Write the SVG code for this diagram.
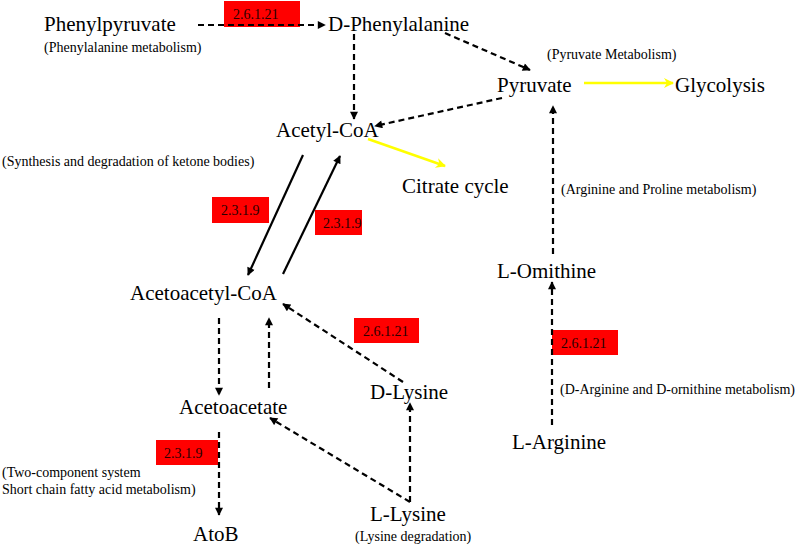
<svg xmlns="http://www.w3.org/2000/svg" width="800" height="546" viewBox="0 0 800 546">
<defs>
<style>
.n{font-family:"Liberation Serif","Times New Roman",serif;font-size:21px;fill:#000}
.s{font-family:"Liberation Serif","Times New Roman",serif;font-size:14px;fill:#000}
.bx{fill:#ff0000}
.bt{font-family:"Liberation Serif","Times New Roman",serif;font-size:14px;fill:#2a0000}
.d{stroke:#000;stroke-width:2.2;stroke-dasharray:6,4;fill:none}
.sl{stroke:#000;stroke-width:2.2;fill:none}
.y{stroke:#ffff00;stroke-width:2.5;fill:none}
</style>
<marker id="ab" viewBox="0 0 10 10" refX="9" refY="5" markerWidth="9" markerHeight="8" markerUnits="userSpaceOnUse" orient="auto"><path d="M0,0L10,5L0,10z" fill="#000"/></marker>
<marker id="ay" viewBox="0 0 10 10" refX="9" refY="5" markerWidth="12" markerHeight="10" markerUnits="userSpaceOnUse" orient="auto"><path d="M0,0L10,5L0,10L3,5z" fill="#ffff00"/></marker>
</defs>
<rect width="800" height="546" fill="#fff"/>
<g id="enzymes">
<rect class="bx" x="224" y="1" width="76" height="26"/><text class="bt" x="233" y="19">2.6.1.21</text>
<rect class="bx" x="212" y="197" width="57" height="26"/><text class="bt" x="221" y="215">2.3.1.9</text>
<rect class="bx" x="315" y="210" width="47" height="25"/><text class="bt" x="323" y="228">2.3.1.9</text>
<rect class="bx" x="354" y="318" width="65" height="25"/><text class="bt" x="363" y="336">2.6.1.21</text>
<rect class="bx" x="552" y="330" width="66" height="25"/><text class="bt" x="561" y="348">2.6.1.21</text>
<rect class="bx" x="156" y="440" width="62" height="25"/><text class="bt" x="164" y="458">2.3.1.9</text>
</g>
<g id="connectors">
<line class="d" x1="198" y1="25" x2="325" y2="25" marker-end="url(#ab)"/>
<line class="d" x1="354" y1="34" x2="354" y2="119" marker-end="url(#ab)"/>
<line class="d" x1="445" y1="33" x2="530" y2="70" marker-end="url(#ab)"/>
<line class="d" x1="502" y1="98" x2="375" y2="126" marker-end="url(#ab)"/>
<line class="d" x1="553" y1="254" x2="553" y2="106" marker-end="url(#ab)"/>
<line class="d" x1="552" y1="425" x2="552" y2="282" marker-end="url(#ab)"/>
<line class="d" x1="219" y1="318" x2="219" y2="395" marker-end="url(#ab)"/>
<line class="d" x1="269" y1="388" x2="269" y2="318" marker-end="url(#ab)"/>
<line class="d" x1="403" y1="382" x2="283" y2="304" marker-end="url(#ab)"/>
<line class="d" x1="410" y1="502" x2="270" y2="418" marker-end="url(#ab)"/>
<line class="d" x1="410" y1="502" x2="410" y2="403" marker-end="url(#ab)"/>
<line class="d" x1="219" y1="432" x2="219" y2="515" marker-end="url(#ab)"/>
<line class="sl" x1="303" y1="155" x2="248" y2="275" marker-end="url(#ab)"/>
<line class="sl" x1="283" y1="274" x2="340" y2="156" marker-end="url(#ab)"/>
<line class="y" x1="584" y1="83" x2="673" y2="83" marker-end="url(#ay)"/>
<line class="y" x1="368" y1="139" x2="445" y2="166" marker-end="url(#ay)"/>
</g>
<g id="phenylpyruvate"><text class="n" x="44" y="31">Phenylpyruvate</text><text class="s" x="44" y="52">(Phenylalanine metabolism)</text></g>
<g id="d-phenylalanine"><text class="n" x="328" y="31">D-Phenylalanine</text></g>
<g id="pyruvate"><text class="s" x="547" y="59">(Pyruvate Metabolism)</text><text class="n" x="497" y="92">Pyruvate</text></g>
<g id="glycolysis"><text class="n" x="675" y="92">Glycolysis</text></g>
<g id="acetyl-coa"><text class="n" x="276" y="137">Acetyl-CoA</text></g>
<g id="citrate-cycle"><text class="n" x="402" y="193">Citrate cycle</text></g>
<g id="ketone-label"><text class="s" x="2" y="166">(Synthesis and degradation of ketone bodies)</text></g>
<g id="arginine-proline-label"><text class="s" x="561" y="194">(Arginine and Proline metabolism)</text></g>
<g id="l-ornithine"><text class="n" x="497" y="278">L-Omithine</text></g>
<g id="acetoacetyl-coa"><text class="n" x="130" y="300">Acetoacetyl-CoA</text></g>
<g id="acetoacetate"><text class="n" x="179" y="414">Acetoacetate</text></g>
<g id="d-lysine"><text class="n" x="370" y="399">D-Lysine</text></g>
<g id="l-lysine"><text class="n" x="370" y="521">L-Lysine</text><text class="s" x="355" y="541">(Lysine degradation)</text></g>
<g id="l-arginine"><text class="n" x="512" y="449">L-Arginine</text></g>
<g id="d-arginine-label"><text class="s" x="560" y="394">(D-Arginine and D-ornithine metabolism)</text></g>
<g id="atob"><text class="s" x="2" y="477">(Two-component system</text><text class="s" x="2" y="494">Short chain fatty acid metabolism)</text><text class="n" x="193" y="541">AtoB</text></g>
</svg>
